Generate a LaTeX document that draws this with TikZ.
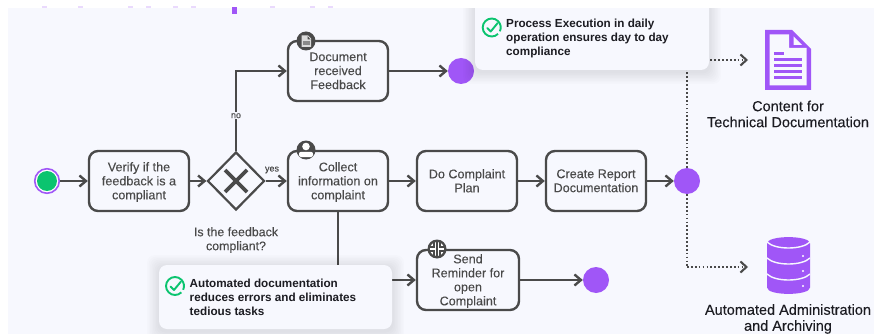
\documentclass[tikz,border=0pt]{standalone}
\usepackage{fontspec}
\setmainfont{Liberation Sans}
\newfontfamily\medfont[FakeBold=0.15]{Liberation Sans}
\usetikzlibrary{arrows.meta,shapes.geometric}
\definecolor{bgc}{HTML}{F7F8FE}
\definecolor{ink}{HTML}{4A4A4A}
\definecolor{lab}{HTML}{1C1C22}
\definecolor{purp}{HTML}{A056F7}
\definecolor{grn}{HTML}{0BC46F}
\newcommand{\fsz}[1]{\fontsize{#1}{14}\selectfont}
\newcommand{\noteshadow}[4]{\foreach \i in {1,...,8}{\fill[black,opacity=.010,rounded corners=8pt] (#1-\i*1.5,#2-\i*1.5+2) rectangle (#3+\i*1.5,#4+\i*1.5+2);}}
\newcommand{\okmark}[2]{\draw[grn,line width=1.9pt] (#1,#2)++(45:9) arc[start angle=45,end angle=385,radius=9];
 \draw[grn,line width=1.9pt,line cap=round,line join=round] (#1-4.5,#2+0.5) -- (#1-1,#2+4) -- (#1+6,#2-4.5);}
\tikzset{
 x=1pt,y=-1pt,
 task/.style={draw=ink,line width=2.4pt,rounded corners=9pt,fill=bgc,text=ink,align=center,inner sep=0pt,text depth=0.5pt,minimum width=100pt,minimum height=60pt,font=\medfont\fsz{12.6}},
 flow/.style={draw=ink,line width=2.4pt,-{Straight Barb[length=6.5pt,width=11pt,line width=2.4pt]}},
 dots/.style={draw=ink,line width=1.7pt,dash pattern=on 1.7pt off 2.2pt},
 dotarrow/.style={dots,-{Straight Barb[length=6pt,width=11pt,line width=2.1pt]}},
 endev/.style={circle,fill=purp,inner sep=0pt,minimum size=26pt},
 badge/.style={circle,fill=ink,inner sep=0pt,minimum size=19pt},
 note/.style={fill=bgc,rounded corners=8pt,inner sep=0pt},
 notetext/.style={anchor=west,align=left,text=lab,inner sep=0pt,font=\bfseries\fsz{11.7}},
 caption/.style={align=center,text=lab,inner sep=0pt,font=\medfont\fsz{14.5}},
 small/.style={text=ink,inner sep=1pt,font=\medfont\fsz{9}},
}
\begin{document}
\begin{tikzpicture}
\useasboundingbox (0,0) rectangle (874,334);
\fill[white] (0,0) rectangle (874,334);
\fill[bgc] (8,8) rectangle (874,334);
% nodes
\node[circle,draw=purp,line width=1.6pt,fill=white,inner sep=0pt,minimum size=24.5pt] (start) at (47,181) {};
\fill[grn] (start.center) circle (10);
\node[task] (verify) at (139,181) {Verify if the\\feedback is a\\compliant};
\node[diamond,draw=ink,line width=2.2pt,fill=bgc,inner sep=0pt,minimum width=57pt,minimum height=58pt] (gate) at (236,181) {};
\node[task] (docr) at (338,71) {Document\\received\\Feedback};
\node[task] (collect) at (338,181) {Collect\\information on\\complaint};
\node[task] (plan) at (467,181) {Do Complaint\\Plan};
\node[task] (report) at (596,181) {Create Report\\Documentation};
\node[task,minimum width=102pt] (send) at (468,280) {Send\\Reminder for\\open\\Complaint};
\node[endev] (end1) at (461,71) {};
\node[endev] (end2) at (687,181) {};
\node[endev] (end3) at (596,280) {};
% gateway cross
\draw[ink,line width=3.8pt] (225,170) -- (247,192) (247,170) -- (225,192);
% connectors
\coordinate (upturn) at (687,60);
\coordinate (uptip) at (748,60);
\coordinate (downturn) at (687,267);
\coordinate (downtip) at (748,267);
\coordinate (sendturn) at (338,280);
\draw[flow] (start) -- (verify);
\draw[flow] (verify) -- (gate);
\draw[flow] (gate) -- (collect);
\draw[flow] (gate.north) |- (docr.west) node[pos=.22,fill=bgc,small] (nolab) {no};
\draw[flow] (docr) -- (end1);
\draw[flow] (collect) -- (plan);
\draw[flow] (plan) -- (report);
\draw[flow] (report) -- (end2);
\draw[flow] (collect.south) -- (sendturn) -- (send.west);
\draw[flow] (send) -- (end3);
\draw[dots] (end2) -- (upturn);
\draw[dotarrow] (upturn) -- (uptip);
\draw[dots] (end2) -- (downturn);
\draw[dotarrow] (downturn) -- (downtip);
\node[small] (yeslab) at (272,170) {yes};
\node[align=center,text=ink,inner sep=0pt,font=\medfont\fsz{12.4}] (gatelab) at (236,240) {Is the feedback\\compliant?};
% notes
\noteshadow{475}{0}{709}{70}
\node[note,minimum width=234pt,minimum height=70pt] (note1) at (592,35) {};
\noteshadow{159}{265}{392}{329}
\node[note,minimum width=233pt,minimum height=64pt] (note2) at (275.5,297) {};
% top strip with the cut-off heading
\fill[white] (0,0) rectangle (874,8);
\fill[white] (0,0) rectangle (8,334);
\foreach \px in {44,80,130,148,175,193,272,312,330}{\fill[purp!22] (\px-2.5,6.2) rectangle (\px+2.5,8);}
\fill[purp] (232,7) rectangle (237,14);
% note content
\okmark{491.7}{27.5}
\node[notetext] (note1text) at (506,38) {Process Execution in daily\\operation ensures day to day\\compliance};
\okmark{175}{286}
\node[notetext] (note2text) at (189.5,297) {Automated documentation\\reduces errors and eliminates\\tedious tasks};
% badges
\node[badge] (b1) at (306,41) {};
\fill[white!80!ink] (301.5,35.5) -- (308,35.5) -- (311,38.5) -- (311,47) -- (301.5,47) -- cycle;
\fill[ink] (307.5,36) -- (307.5,39.5) -- (310.5,39.5) -- cycle;
\fill[ink!65!white] (303,41) rectangle (309.5,45.5);
\node[badge] (b2) at (306,150) {};
\fill[white] (306,146.5) circle (3.8);
\fill[white,rounded corners=2pt] (299,157) rectangle (313,151.8);
\node[badge] (b3) at (437,249) {};
\fill[white] (437,249) circle (7);
\draw[ink,line width=1.6pt] (434,242) -- (434,247) -- (430,247) (440,242) -- (440,247) -- (444,247) (430,251) -- (434,251) -- (434,256) (444,251) -- (440,251) -- (440,256) (437,242) -- (437,256);
% document icon
\fill[purp] (765,30) -- (792,30) -- (811,49) -- (811,90) -- (765,90) -- cycle;
\fill[bgc] (769.5,34.5) -- (789,34.5) -- (789,48) -- (806.5,48) -- (806.5,85.5) -- (769.5,85.5) -- cycle;
\fill[bgc] (793.5,36.5) -- (802,45) -- (793.5,45) -- cycle;
\fill[purp] (774,52) rectangle (783.5,54.6);
\foreach \ly in {58,64,70,76}{\fill[purp] (774,\ly) rectangle (802,\ly+2.7);}
\node[caption] (cap1) at (788,114) {Content for\\[2pt]Technical Documentation};
% database icon
\fill[purp] (767,243.5) .. controls (767,235) and (810,235) .. (810,243.5) -- (810,287.5) .. controls (810,296) and (767,296) .. (767,287.5) -- cycle;
\foreach \ay in {242,258,274}{\draw[bgc,line width=1.4pt] (767,\ay) .. controls (775,\ay+8) and (802,\ay+8) .. (810,\ay);}
\foreach \dy in {256,271,286}{\fill[white] (803,\dy) circle (1.1);}
\node[caption] (cap2) at (788,319) {Automated Administration\\[2pt]and Archiving};
\end{tikzpicture}
\end{document}
